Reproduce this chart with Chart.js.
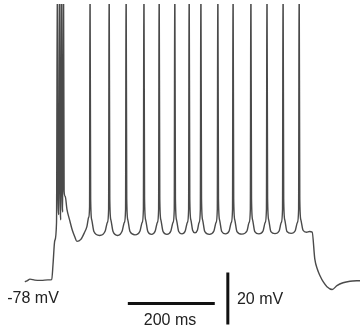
<!DOCTYPE html>
<html>
<head>
<meta charset="utf-8">
<script src="https://cdn.jsdelivr.net/npm/chart.js"></script>
<style>
  html, body { margin: 0; padding: 0; background: #fff; }
  #wrap { width: 360px; height: 328px; }
</style>
</head>
<body>
<div id="wrap"><canvas id="trace"></canvas></div>
<script>
// membrane potential trace, time in ms, voltage in mV
const traceTime = [
  57, 62, 69, 80, 95, 110, 119, 122, 126, 130,
  132, 133.5, 135.5, 137, 138.5, 140, 141.5, 143, 144.5, 146, 147.5, 150, 154, 160, 166, 172, 177, 186, 194, 200, 204, 206,
  207, 208.5, 211, 216, 229, 242, 247, 249.8,
  251, 252.5, 255, 260, 270.5, 281, 286, 288.8,
  290, 291.5, 294, 299, 310.5, 322, 327, 329.8,
  331, 332.5, 335, 340, 348.5, 357, 362, 364.8,
  366, 367.5, 370, 375, 384, 393, 398, 400.8,
  402, 403.5, 406, 411, 418.5, 426, 431, 433.8,
  435, 436.5, 439, 443, 448.5, 454, 458, 460.8,
  462, 463.5, 466, 471, 481.5, 492, 497, 499.8,
  501, 502.5, 505, 510, 518.5, 527, 532, 534.8,
  536, 537.5, 540, 545, 556.5, 568, 573, 575.8,
  577, 578.5, 581, 586, 595.5, 605, 610, 612.8,
  614, 615.5, 618, 623, 632.5, 642, 647, 649.8,
  651, 652.5, 655, 660, 669.5, 679, 684, 686.8,
  688, 689.5, 692, 697, 705, 712, 718, 724, 730, 736, 744, 752, 764, 775, 789, 805, 828
];
const traceVolt = [
  -78.8, -78.5, -77.8, -78.2, -78.3, -78.1, -78, -72, -63, -56,
  45, -47, -53, 45, -47, -55, 45, -46, -52, 45, -44, -46, -51, -55, -58.8, -61.5, -63.3, -62.5, -60, -57.5, -54, -50,
  45, -47, -55, -59.5, -61, -59.3, -56, -51,
  45, -47, -55, -59.5, -61, -59.3, -56, -51,
  45, -47, -55, -59.5, -60.8, -59.3, -56, -51,
  45, -47, -55, -59.5, -60.6, -59.3, -56, -51,
  45, -47, -55, -59.5, -60.6, -59.3, -56, -51,
  45, -47, -55, -59.5, -60.4, -59.3, -56, -51,
  45, -47, -55, -59, -60, -59, -56, -51,
  45, -47, -55, -59.5, -60.6, -59.3, -56, -51,
  45, -47, -55, -59.5, -60.4, -59.3, -56, -51,
  45, -47, -55, -59.5, -60.5, -59.3, -56, -51,
  45, -47, -55, -59.5, -60.4, -59.3, -56, -51,
  45, -47, -55, -59.5, -60.3, -59.3, -56, -51,
  45, -47, -55, -59.5, -60.2, -59.2, -56, -51,
  45, -47, -55, -59, -59.8, -59.5, -59.7, -70, -74, -76.5, -79, -80.7, -81.8, -80.3, -79.2, -78.6, -78.4
];

// scale bars: 200 ms and 20 mV
const timeBarX = [294, 494];
const timeBarY = [-87.2, -87.2];
const voltBarX = [524, 524];
const voltBarY = [-75.3, -95.3];

// text labels
const noteText = ['-78 mV', '200 ms', '20 mV'];
const noteX = [76, 391, 545];
const noteY = [-85.3, -93.8, -85.7];
const noteAlign = ['center', 'center', 'left'];

const toPoints = (xs, ys) => xs.map((x, i) => ({ x: x, y: ys[i] }));

const notesPlugin = {
  id: 'notes',
  afterDatasetsDraw(chart) {
    const ctx = chart.ctx;
    const xs = chart.scales.x, ys = chart.scales.y;
    ctx.save();
    ctx.font = '16px "Liberation Sans", Arial, sans-serif';
    ctx.fillStyle = '#222';
    ctx.textBaseline = 'middle';
    noteText.forEach((t, i) => {
      ctx.textAlign = noteAlign[i];
      ctx.fillText(t, xs.getPixelForValue(noteX[i]), ys.getPixelForValue(noteY[i]));
    });
    ctx.restore();
  }
};

new Chart(document.getElementById('trace').getContext('2d'), {
  type: 'line',
  data: {
    datasets: [
      {
        data: toPoints(traceTime, traceVolt),
        borderColor: '#4a4a4a',
        borderWidth: 1.4,
        pointRadius: 0,
        cubicInterpolationMode: 'monotone',
        fill: false
      },
      {
        data: toPoints(timeBarX, timeBarY),
        borderColor: '#111',
        borderWidth: 3,
        pointRadius: 0,
        clip: false
      },
      {
        data: toPoints(voltBarX, voltBarY),
        borderColor: '#111',
        borderWidth: 3,
        pointRadius: 0,
        clip: false
      }
    ]
  },
  options: {
    responsive: true,
    maintainAspectRatio: false,
    animation: false,
    layout: { padding: { top: 4, left: 0, right: 0, bottom: 0 } },
    plugins: { legend: { display: false }, tooltip: { enabled: false } },
    scales: {
      x: { type: 'linear', min: 0, max: 828, display: false },
      y: { min: -96.6, max: 28, display: false }
    }
  },
  plugins: [notesPlugin]
});
</script>
</body>
</html>
